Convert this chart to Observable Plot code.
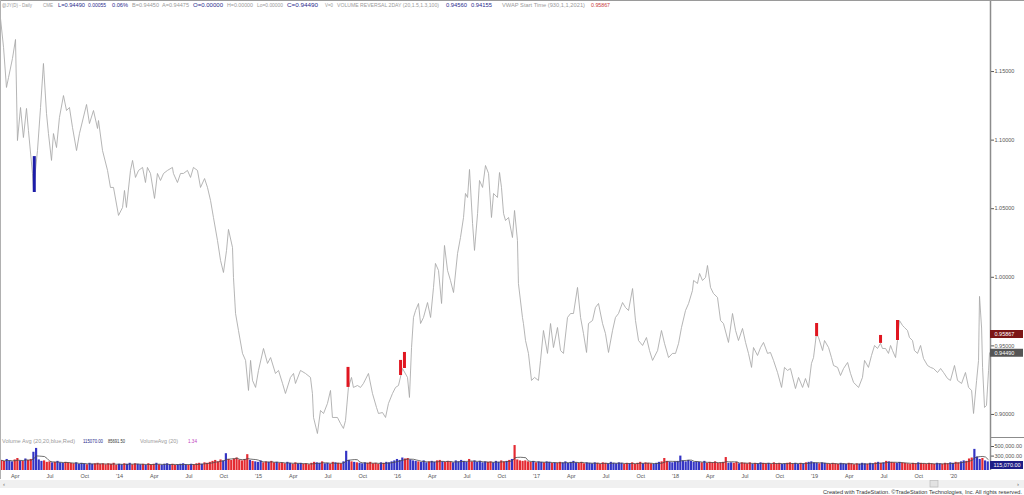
<!DOCTYPE html>
<html><head><meta charset="utf-8">
<script src="https://cdn.jsdelivr.net/npm/d3@7"></script>
<script src="https://cdn.jsdelivr.net/npm/@observablehq/plot@0.6"></script>
<style>
body{margin:0;background:#fff;font-family:"Liberation Sans",Arial,sans-serif;}
#wrap{position:relative;width:1024px;height:495px;overflow:hidden;background:#fff;}
#wrap > svg{position:absolute;left:0;}
</style></head><body><div id="wrap"></div>
<script>
// ---- DATA (decimal year, price) ----
const priceSeries = [
[2013.144,1.1887],[2013.166,1.1675],[2013.187,1.1384],[2013.202,1.1457],[2013.230,1.1595],[2013.252,1.1734],
[2013.266,1.0997],[2013.288,1.1238],[2013.309,1.1019],[2013.331,1.1231],[2013.345,1.1070],[2013.374,1.0757],
[2013.381,1.0633],[2013.410,1.0924],[2013.432,1.1238],[2013.453,1.1559],[2013.475,1.1194],[2013.489,1.1048],
[2013.511,1.0852],[2013.525,1.1048],[2013.547,1.0946],[2013.568,1.1165],[2013.597,1.1325],[2013.619,1.1216],
[2013.640,1.1238],[2013.662,1.1092],[2013.691,1.0924],[2013.712,1.1048],[2013.763,1.1260],[2013.784,1.1121],
[2013.813,1.1216],[2013.842,1.1085],[2013.849,1.1143],[2013.878,1.0924],[2013.914,1.0779],[2013.935,1.0655],
[2013.957,1.0655],[2013.993,1.0451],[2014.022,1.0509],[2014.036,1.0633],[2014.050,1.0509],[2014.079,1.0779],
[2014.094,1.0852],[2014.115,1.0728],[2014.137,1.0779],[2014.166,1.0801],[2014.187,1.0691],[2014.201,1.0801],
[2014.223,1.0757],[2014.252,1.0575],[2014.273,1.0757],[2014.295,1.0706],[2014.317,1.0757],[2014.345,1.0779],
[2014.381,1.0801],[2014.388,1.0757],[2014.417,1.0691],[2014.439,1.0757],[2014.460,1.0757],[2014.489,1.0779],
[2014.511,1.0728],[2014.532,1.0801],[2014.561,1.0779],[2014.583,1.0655],[2014.612,1.0720],[2014.633,1.0655],
[2014.655,1.0560],[2014.676,1.0436],[2014.705,1.0268],[2014.727,1.0123],[2014.748,1.0035],[2014.770,1.0196],
[2014.784,1.0349],[2014.813,1.0217],[2014.820,0.9999],[2014.835,0.9736],[2014.856,0.9612],[2014.885,0.9445],
[2014.907,0.9394],[2014.928,0.9175],[2014.943,0.9394],[2014.957,0.9248],[2014.979,0.9197],[2015.000,0.9321],
[2015.036,0.9481],[2015.065,0.9372],[2015.087,0.9415],[2015.122,0.9299],[2015.144,0.9321],[2015.173,0.9226],
[2015.194,0.9153],[2015.230,0.9270],[2015.252,0.9299],[2015.266,0.9226],[2015.302,0.9321],[2015.338,0.9299],
[2015.374,0.9270],[2015.388,0.9153],[2015.396,0.8978],[2015.424,0.8861],[2015.446,0.9029],[2015.468,0.9007],
[2015.496,0.9080],[2015.518,0.9175],[2015.532,0.8978],[2015.568,0.8978],[2015.590,0.8934],[2015.611,0.8898],
[2015.626,0.8956],[2015.647,0.9197],[2015.669,0.9270],[2015.683,0.9197],[2015.712,0.9211],[2015.734,0.9197],
[2015.755,0.9226],[2015.791,0.9299],[2015.820,0.9153],[2015.849,0.9051],[2015.863,0.9007],[2015.892,0.9014],
[2015.914,0.8978],[2015.935,0.9080],[2015.964,0.9153],[2015.986,0.9197],[2016.007,0.9211],[2016.036,0.9335],
[2016.072,0.9270],[2016.086,0.9124],[2016.101,0.9488],[2016.115,0.9707],[2016.130,0.9758],[2016.151,0.9809],
[2016.166,0.9663],[2016.187,0.9707],[2016.216,0.9816],[2016.238,0.9707],[2016.259,0.9926],[2016.273,1.0101],
[2016.295,1.0050],[2016.317,0.9809],[2016.338,1.0232],[2016.360,1.0050],[2016.381,0.9977],[2016.403,0.9889],
[2016.432,1.0174],[2016.453,1.0290],[2016.475,1.0436],[2016.489,1.0611],[2016.504,1.0582],[2016.518,1.0786],
[2016.540,1.0392],[2016.554,1.0196],[2016.576,1.0465],[2016.590,1.0706],[2016.612,1.0655],[2016.633,1.0815],
[2016.655,1.0757],[2016.676,1.0436],[2016.691,1.0611],[2016.719,1.0582],[2016.734,1.0764],[2016.748,1.0655],
[2016.763,1.0465],[2016.777,1.0414],[2016.799,1.0436],[2016.827,1.0290],[2016.842,1.0487],[2016.863,1.0268],
[2016.870,0.9955],[2016.899,0.9707],[2016.906,0.9663],[2016.921,0.9539],[2016.942,0.9445],[2016.964,0.9248],
[2016.986,0.9270],[2017.014,0.9248],[2017.029,0.9394],[2017.050,0.9612],[2017.079,0.9445],[2017.101,0.9663],
[2017.122,0.9488],[2017.151,0.9634],[2017.173,0.9466],[2017.194,0.9445],[2017.223,0.9707],[2017.245,0.9736],
[2017.266,0.9736],[2017.295,0.9926],[2017.317,0.9707],[2017.338,0.9590],[2017.360,0.9452],[2017.374,0.9663],
[2017.403,0.9685],[2017.424,0.9780],[2017.446,0.9809],[2017.475,0.9663],[2017.496,0.9590],[2017.518,0.9452],
[2017.547,0.9612],[2017.568,0.9707],[2017.590,0.9736],[2017.619,0.9816],[2017.640,0.9780],[2017.662,0.9758],
[2017.691,0.9918],[2017.712,0.9685],[2017.734,0.9539],[2017.763,0.9503],[2017.791,0.9561],[2017.813,0.9466],
[2017.835,0.9394],[2017.871,0.9466],[2017.899,0.9612],[2017.921,0.9518],[2017.950,0.9415],[2017.978,0.9445],
[2018.000,0.9445],[2018.022,0.9518],[2018.043,0.9634],[2018.072,0.9758],[2018.094,0.9809],[2018.122,0.9904],
[2018.130,0.9977],[2018.158,0.9955],[2018.173,1.0028],[2018.194,0.9977],[2018.216,0.9999],[2018.230,1.0086],
[2018.252,0.9926],[2018.273,0.9882],[2018.302,0.9853],[2018.324,0.9685],[2018.345,0.9663],[2018.381,0.9525],
[2018.410,0.9736],[2018.432,0.9612],[2018.453,0.9539],[2018.482,0.9627],[2018.504,0.9525],[2018.525,0.9445],
[2018.547,0.9343],[2018.561,0.9488],[2018.590,0.9430],[2018.612,0.9488],[2018.633,0.9525],[2018.662,0.9445],
[2018.683,0.9452],[2018.705,0.9394],[2018.734,0.9306],[2018.763,0.9197],[2018.784,0.9343],[2018.806,0.9321],
[2018.827,0.9335],[2018.863,0.9189],[2018.885,0.9270],[2018.914,0.9197],[2018.935,0.9262],[2018.957,0.9197],
[2018.978,0.9372],[2018.993,0.9415],[2019.014,0.9590],[2019.029,0.9561],[2019.058,0.9466],[2019.072,0.9539],
[2019.101,0.9488],[2019.122,0.9415],[2019.137,0.9357],[2019.166,0.9343],[2019.187,0.9284],[2019.209,0.9335],
[2019.238,0.9379],[2019.259,0.9299],[2019.281,0.9233],[2019.317,0.9197],[2019.345,0.9270],[2019.360,0.9394],
[2019.388,0.9343],[2019.410,0.9430],[2019.432,0.9503],[2019.453,0.9481],[2019.475,0.9518],[2019.489,0.9481],
[2019.511,0.9481],[2019.532,0.9445],[2019.547,0.9503],[2019.561,0.9466],[2019.583,0.9415],[2019.597,0.9539],
[2019.611,0.9685],[2019.633,0.9649],[2019.647,0.9634],[2019.669,0.9612],[2019.683,0.9561],[2019.705,0.9539],
[2019.719,0.9466],[2019.741,0.9445],[2019.763,0.9503],[2019.784,0.9408],[2019.813,0.9357],[2019.835,0.9343],
[2019.856,0.9335],[2019.885,0.9306],[2019.907,0.9335],[2019.928,0.9306],[2019.957,0.9262],[2019.978,0.9248],
[2020.007,0.9357],[2020.029,0.9248],[2020.058,0.9226],[2020.086,0.9306],[2020.108,0.9197],[2020.130,0.9175],
[2020.144,0.9007],[2020.166,0.9248],[2020.180,0.9394],[2020.187,0.9861],[2020.202,0.9630],[2020.209,0.9343],
[2020.223,0.9051],[2020.237,0.9066],[2020.252,0.9321],[2020.259,0.9449]
];

// Volume reversal signals (decimal year, low, high, direction)
const reversalBars = [
  {t:2013.387, lo:1.0618, hi:1.0880, dir:"up"},
  {t:2015.644, lo:0.9197, hi:0.9343, dir:"down"},
  {t:2016.022, lo:0.9284, hi:0.9394, dir:"down"},
  {t:2016.050, lo:0.9335, hi:0.9452, dir:"down"},
  {t:2019.015, lo:0.9568, hi:0.9663, dir:"down"},
  {t:2019.475, lo:0.9518, hi:0.9576, dir:"down"},
  {t:2019.597, lo:0.9539, hi:0.9685, dir:"down"}
];

// Weekly volume (thousands), starting at volumeStart
const volumeStart = 2013.144;
const volumeK = [
210,190,230,200,180,220,250,200,190,240,210,230,380,
460,220,190,200,170,180,160,170,190,160,150,170,160,
150,140,160,130,150,140,120,150,130,140,150,130,140,
120,140,130,150,110,130,120,140,130,150,120,140,130,
120,130,110,140,120,130,150,120,110,130,140,120,130,
110,120,130,140,120,110,130,120,140,150,130,160,150,
170,190,210,180,220,200,350,230,210,240,260,220,200,
230,330,210,190,180,170,200,160,180,170,190,160,170,
150,160,140,170,150,130,160,140,150,130,140,120,150,
170,160,150,180,140,150,130,170,160,150,140,180,400,
210,180,170,160,150,140,160,150,170,140,150,130,160,
150,170,160,180,200,230,210,260,240,250,220,200,190,
180,170,200,160,180,190,170,200,210,180,170,190,180,
160,200,180,210,190,170,230,180,200,170,190,160,180,
170,180,160,190,170,200,180,190,210,230,520,220,200,
190,200,180,170,190,160,180,170,160,180,170,150,160,
150,170,160,180,150,170,190,160,150,170,140,160,150,
140,160,150,130,160,150,140,170,150,140,160,150,130,
150,140,160,130,150,170,140,160,150,140,130,150,170,
180,250,190,170,160,180,190,300,200,180,210,190,170,
180,170,160,190,150,170,160,180,150,160,170,270,150,
160,150,170,140,160,150,140,160,130,150,140,160,150,
140,150,130,160,140,150,130,140,150,160,140,150,130,
150,140,160,170,180,160,150,140,160,150,140,130,150,
140,130,150,140,130,150,140,120,140,130,150,140,130,
150,140,160,170,150,160,190,180,170,160,150,170,160,
150,140,130,150,140,160,150,140,130,150,140,130,150,
140,130,150,140,160,150,170,160,180,200,190,240,260,
440,280,230,250,200,180
];

const priceTicks = [0.90, 0.95, 1.00, 1.05, 1.10, 1.15];
const volumeTicks = [300000, 500000];
const quarterTicks = [2013.25,2013.5,2013.75,2014,2014.25,2014.5,2014.75,2015,2015.25,2015.5,2015.75,2016,
  2016.25,2016.5,2016.75,2017,2017.25,2017.5,2017.75,2018,2018.25,2018.5,2018.75,2019,2019.25,2019.5,2019.75,2020];
const quarterLabels = ["Apr","Jul","Oct","'14","Apr","Jul","Oct","'15","Apr","Jul","Oct","'16",
  "Apr","Jul","Oct","'17","Apr","Jul","Oct","'18","Apr","Jul","Oct","'19","Apr","Jul","Oct","'20"];
const lastClose = 0.94490;
const vwapLevel = 0.95867;
const lastVolume = 115070;

const headerTexts = [
  ["@JY(D) - Daily","g"],["CME","g"],["L=0.94490","n"],["0.00055","n"],["0.06%","n"],
  ["B=0.94450","g"],["A=0.94475","g"],["O=0.00000","n"],["H=0.00000","g"],["Lo=0.00000","g"],
  ["C=0.94490","n"],["V=0","g"],["VOLUME REVERSAL 2DAY (20,1.5,1.3,100)","g"],["0.94560","n"],
  ["0.94155","n"],["VWAP Start Time (930,1,1,2021)","g"],["0.95867","r"]
];
const volumeHeaderTexts = [
  ["Volume Avg (20,20,blue,Red)","g"],["115070.00","n"],["85691.50","k"],["VolumeAvg (20)","g"],["1.34","m"]
];
const creditText = "Created with TradeStation. \u00A9TradeStation Technologies, Inc. All rights reserved.";

// ---- LAYOUT ----
const palette = {g:"#9a9a9a", n:"#2a2a8c", r:"#c83a3a", k:"#333333", m:"#c040c0"};
const headerX = [[2,32],[43,53],[58,85],[88,106],[112,128],[132,159],[162,189],[193,223],[227,253],[257,283],
  [287,318],[325,333],[337,439],[446,467],[471,492],[502,585],[591,610]];
const volumeHeaderX = [[2,75],[83,103],[108,125],[140,178],[188,197]];
const xDomain = [2013.144, 2020.266];
const xRight = xDomain[1] + 33/139;
const font = "Liberation Sans, Arial, sans-serif";
const wrap = document.getElementById("wrap");

const priceLabelMap = new Map(quarterTicks.map((t,i)=>[t, quarterLabels[i]]));
const tArr = priceSeries.map(d=>d[0]);
function priceAt(t){
  const i = Math.max(1, Math.min(tArr.length-1, d3.bisectLeft(tArr, t)));
  const [t0,p0] = priceSeries[i-1], [t1,p1] = priceSeries[i];
  const f = Math.max(0, Math.min(1, (t-t0)/(t1-t0)));
  return p0 + (p1-p0)*f;
}
const vol = volumeK.map((v,i)=>{
  const t0 = volumeStart + i/52, t1 = volumeStart + (i+1)/52;
  return {t0, t1, mid:(t0+t1)/2, v:v*1000, up: priceAt(t1) >= priceAt(t0)};
});

const pricePlot = Plot.plot({
  width:1024, height:437, marginLeft:0, marginRight:34, marginTop:0, marginBottom:0,
  style:{fontFamily:font, fontSize:"5.5px", color:"#555", background:"transparent", overflow:"visible"},
  x:{domain:xDomain, axis:null},
  y:{domain:[0.8832, 1.2018], axis:"right", ticks:priceTicks, tickFormat:d3.format(".5f"), tickSize:3, tickPadding:1, label:null},
  marks:[
    Plot.line(priceSeries, {x:d=>d[0], y:d=>d[1], stroke:"#a8a8a8", strokeWidth:0.85}),
    Plot.ruleX(reversalBars, {x:"t", y1:"lo", y2:"hi", stroke:d=>d.dir==="up"?"#1c1ca8":"#e01620", strokeWidth:3}),
    Plot.ruleX([xDomain[1]], {stroke:"#8c8c8c", strokeWidth:1.5}),
    Plot.ruleY([vwapLevel], {x1:xDomain[1], x2:xRight, stroke:"#7c1616", strokeWidth:8}),
    Plot.text([vwapLevel], {x:xDomain[1], y:d=>d, text:d=>d.toFixed(5), textAnchor:"start", dx:4, fill:"#ffffff", fontSize:5.5}),
    Plot.ruleY([lastClose], {x1:xDomain[1], x2:xRight, stroke:"#555555", strokeWidth:8}),
    Plot.text([lastClose], {x:xDomain[1], y:d=>d, text:d=>d.toFixed(5), textAnchor:"start", dx:4, fill:"#ffffff", fontSize:5.5})
  ]
});
pricePlot.style.top = "0px";
wrap.appendChild(pricePlot);

const volPlot = Plot.plot({
  width:1024, height:48, marginLeft:0, marginRight:34, marginTop:0, marginBottom:15,
  style:{fontFamily:font, fontSize:"5.5px", color:"#555", background:"transparent", overflow:"visible"},
  x:{domain:xDomain, ticks:quarterTicks, tickFormat:d=>priceLabelMap.get(d), tickSize:0, tickPadding:4, label:null},
  y:{domain:[0, 687500], axis:"right", ticks:volumeTicks, tickFormat:d3.format(",.2f"), tickSize:3, tickPadding:1, label:null},
  marks:[
    Plot.rectY(vol, {x1:"t0", x2:"t1", y:"v", fill:d=>d.up?"#3434c4":"#e42a32", insetLeft:0.25, insetRight:0.25}),
    Plot.lineY(vol, Plot.windowY({k:5, anchor:"end"}, {x:"mid", y:"v", stroke:"#4a4a4a", strokeWidth:0.8})),
    Plot.ruleX([xDomain[1]], {stroke:"#8c8c8c", strokeWidth:1.5}),
    Plot.ruleY([lastVolume], {x1:xDomain[1], x2:xRight, stroke:"#1e1e86", strokeWidth:8}),
    Plot.text([lastVolume], {x:xDomain[1], y:d=>d, text:d=>d3.format(",.2f")(d), textAnchor:"start", dx:3, fill:"#ffffff", fontSize:5.5})
  ]
});
volPlot.style.top = "437px";
wrap.appendChild(volPlot);

// ---- overlay: header, volume header, frame, scrollbar, credit ----
const ov = d3.select(wrap).append("svg").attr("width",1024).attr("height",495)
  .style("top","0px").style("pointer-events","none").attr("font-family", font);
ov.append("line").attr("x1",0).attr("x2",1024).attr("y1",0.5).attr("y2",0.5).attr("stroke","#9a9a9a");
ov.append("line").attr("x1",0.5).attr("x2",0.5).attr("y1",0).attr("y2",479).attr("stroke","#b0b0b0");
ov.append("line").attr("x1",990).attr("x2",1024).attr("y1",437.5).attr("y2",437.5).attr("stroke","#8c8c8c");
headerTexts.forEach(([t,c],i)=>{
  ov.append("text").attr("x",headerX[i][0]).attr("y",7).attr("font-size",4.8)
    .attr("textLength",headerX[i][1]-headerX[i][0]).attr("lengthAdjust","spacingAndGlyphs")
    .attr("fill",palette[c]).text(t);
});
volumeHeaderTexts.forEach(([t,c],i)=>{
  ov.append("text").attr("x",volumeHeaderX[i][0]).attr("y",443).attr("font-size",4.8)
    .attr("textLength",volumeHeaderX[i][1]-volumeHeaderX[i][0]).attr("lengthAdjust","spacingAndGlyphs")
    .attr("fill",palette[c]).text(t);
});
ov.append("rect").attr("x",0).attr("y",480).attr("width",1024).attr("height",8).attr("fill","#f0f0f0");
ov.append("text").attr("x",3).attr("y",486).attr("font-size",6).attr("fill","#666").text("\u2039");
ov.append("text").attr("x",1017).attr("y",486).attr("font-size",6).attr("fill","#666").text("\u203A");
ov.append("rect").attr("x",930).attr("y",480.5).attr("width",8).attr("height",6.5).attr("fill","#e2e2e2").attr("stroke","#b5b5b5").attr("stroke-width",0.6);
ov.append("text").attr("x",1022).attr("y",493.5).attr("text-anchor","end").attr("font-size",4.9).attr("textLength",199)
  .attr("lengthAdjust","spacingAndGlyphs").attr("fill","#333").text(creditText);
</script></body></html>
